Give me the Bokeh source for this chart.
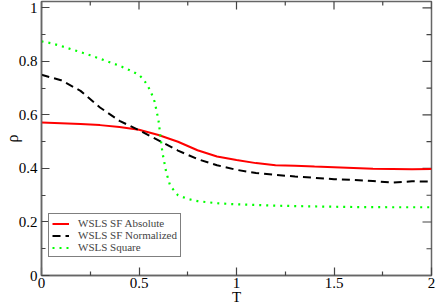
import math
from bokeh.plotting import figure
from bokeh.models import FixedTicker, Legend, LegendItem
from bokeh.embed import file_html
from bokeh.resources import INLINE

# ---- data ----
T_main = [0.0, 0.1, 0.2, 0.3, 0.4, 0.5, 0.6, 0.7, 0.8, 0.9, 1.0,
          1.1, 1.2, 1.3, 1.4, 1.5, 1.6, 1.7, 1.8, 1.9, 2.0]
sf_absolute = [0.572, 0.569, 0.566, 0.562, 0.555, 0.545, 0.525, 0.500, 0.468, 0.445, 0.432,
               0.420, 0.412, 0.410, 0.407, 0.405, 0.402, 0.399, 0.398, 0.397, 0.398]
sf_normalized = [0.750, 0.730, 0.690, 0.628, 0.578, 0.543, 0.505, 0.467, 0.435, 0.412, 0.395,
                 0.383, 0.376, 0.370, 0.365, 0.360, 0.357, 0.353, 0.347, 0.352, 0.351]
T_square = [0.0, 0.05, 0.1, 0.15, 0.2, 0.25, 0.3, 0.35, 0.4, 0.45, 0.5, 0.52, 0.54, 0.56,
            0.58, 0.60, 0.62, 0.64, 0.66, 0.70, 0.75, 0.8, 0.9, 1.0, 1.2, 1.4, 1.6, 1.8, 2.0]
square = [0.875, 0.868, 0.858, 0.846, 0.835, 0.823, 0.810, 0.797, 0.784, 0.768, 0.750, 0.735,
          0.715, 0.688, 0.650, 0.580, 0.460, 0.385, 0.335, 0.300, 0.286, 0.278, 0.270, 0.266,
          0.261, 0.258, 0.256, 0.255, 0.255]

x_ticks = [0, 0.5, 1, 1.5, 2]
x_tick_labels = ["0", "0.5", "1", "1.5", "2"]
x_minor = [0.25, 0.75, 1.25, 1.75]
y_ticks = [0, 0.2, 0.4, 0.6, 0.8, 1.0]
y_tick_labels = ["0", "0.2", "0.4", "0.6", "0.8", "1"]
y_minor = [0.1, 0.3, 0.5, 0.7, 0.9]
x_title = "T"
y_title = "ρ"

X_MIN, X_MAX = 0, 2
Y_MIN, Y_MAX = 0, 1.024

SERIF = "Liberation Serif"
AX = "#666666"
TICK = "#444444"

p = figure(width=436, height=307, x_range=(X_MIN, X_MAX), y_range=(Y_MIN, Y_MAX),
           output_backend="svg", toolbar_location=None,
           min_border_left=40, min_border_right=5, min_border_top=1, min_border_bottom=31)
p.xgrid.visible = False
p.ygrid.visible = False
p.outline_line_color = AX
p.outline_line_width = 1.5
p.background_fill_color = "white"
p.border_fill_color = "white"

def style(ax, ticks, minor, labels):
    ax.ticker = FixedTicker(ticks=ticks, minor_ticks=minor)
    ax.major_tick_in = 8
    ax.major_tick_out = 0
    ax.minor_tick_in = 4
    ax.minor_tick_out = 0
    ax.axis_line_color = AX
    ax.axis_line_width = 1.5
    ax.major_tick_line_color = TICK
    ax.minor_tick_line_color = TICK
    ax.major_tick_line_width = 1.2
    ax.minor_tick_line_width = 1.2
    ax.major_label_overrides = {t: l for t, l in zip(ticks, labels)}
    ax.major_label_text_font = SERIF
    ax.major_label_text_font_size = "15px"
    ax.major_label_text_color = "black"
    ax.axis_label_text_font = SERIF
    ax.axis_label_text_font_style = "normal"
    ax.axis_label_text_color = "black"

style(p.xaxis[0], x_ticks, x_minor, x_tick_labels)
style(p.yaxis[0], y_ticks, y_minor, y_tick_labels)
p.xaxis[0].major_label_standoff = 2
p.xaxis[0].axis_label = x_title
p.xaxis[0].axis_label_text_font_size = "15px"
p.xaxis[0].axis_label_standoff = -2
p.yaxis[0].major_label_standoff = 4
p.yaxis[0].axis_label = y_title
p.yaxis[0].axis_label_text_font_size = "16px"
p.yaxis[0].axis_label_standoff = -5

# mirrored inward ticks on top and right edges (screen-sized dash markers clipped by the frame)
p.scatter(x_ticks, [Y_MAX] * len(x_ticks), marker="dash", angle=math.pi / 2, size=16,
          line_color=TICK, line_width=1.2)
p.scatter(x_minor, [Y_MAX] * len(x_minor), marker="dash", angle=math.pi / 2, size=8,
          line_color=TICK, line_width=1.2)
p.scatter([X_MAX] * len(y_ticks), y_ticks, marker="dash", size=18,
          line_color=TICK, line_width=1.2)
p.scatter([X_MAX] * len(y_minor), y_minor, marker="dash", size=10,
          line_color=TICK, line_width=1.2)

r1 = p.line(T_main, sf_absolute, line_color="#ff0000", line_width=2)
r2 = p.line(T_main, sf_normalized, line_color="black", line_width=2, line_dash="8 5")
r3 = p.line(T_square, square, line_color="#00ff00", line_width=2.2, line_dash="2 5")

legend = Legend(items=[LegendItem(label="WSLS SF Absolute", renderers=[r1]),
                       LegendItem(label="WSLS SF Normalized", renderers=[r2]),
                       LegendItem(label="WSLS Square", renderers=[r3])],
                location=(7, 18))
legend.label_text_font = SERIF
legend.label_text_font_size = "11px"
legend.label_height = 11
legend.glyph_height = 11
legend.glyph_width = 17
legend.label_standoff = 9
legend.spacing = 0
legend.padding = 3
legend.margin = 0
legend.border_line_color = "black"
legend.border_line_width = 1
legend.background_fill_alpha = 1
p.add_layout(legend, "center")

open("out.html", "w").write(file_html(p, INLINE))
